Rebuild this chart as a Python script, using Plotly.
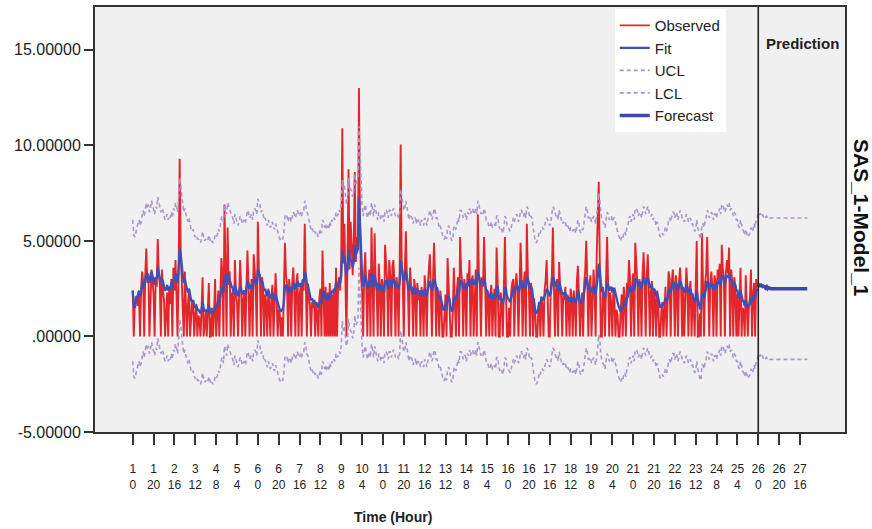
import plotly.graph_objects as go

# ---------------- data ----------------
observed_by_day = [
    [2.4,0,1.8,2.1,2.0,1.6,2.2,0,2.5,3.4,2.9,0,3.2,4.6,2.8,3.3,0,2.6,3.5,2.9,2.2,0,3.1,2.6],
    [5.1,3.3,2.7,0,3.5,2.4,1.9,0,1.5,2.3,0,2.6,1.7,3.0,0,3.6,2.4,4.0,2.1,0,3.3,9.3,4.4,2.8],
    [2.3,0,3.4,2.0,0,1.7,2.5,0,1.3,1.9,1.5,0,1.2,1.7,0,1.1,0.9,0,1.4,3.1,0,1.0,1.3,0],
    [1.1,2.8,0,0,1.5,0,1.2,3.0,0,1.6,2.4,0,2.9,4.1,3.2,0,6.9,2.5,0,5.7,2.7,3.4,0,2.3],
    [2.0,0,4.0,2.2,1.8,0,2.5,4.0,2.6,0,1.9,2.3,0,3.2,4.5,2.8,0,2.1,3.0,0,4.3,3.5,2.4,0],
    [6.0,3.4,2.9,0,3.1,2.6,0,2.2,1.8,0,2.5,1.6,0,2.1,2.7,0,1.9,3.3,2.0,0,1.4,1.2,0,1.0],
    [0,2.3,4.9,3.2,2.7,0,3.0,2.4,0,2.8,3.6,2.2,0,2.9,3.3,0,2.1,2.6,0,3.0,2.4,5.9,3.1,0],
    [2.7,2.0,1.6,0,1.8,1.5,1.9,0,1.7,1.2,0,2.0,2.5,0,4.5,2.4,0,2.6,0,2.3,0,2.8,0,2.2],
    [0,2.5,0,3.6,0,2.7,3.1,2.4,4.2,10.9,3.8,5.9,2.9,0,4.1,8.75,3.5,6.0,4.8,3.2,5.0,8.6,3.9,5.2],
    [4.6,13.0,5.5,3.0,2.4,0,3.3,4.4,2.6,0,2.9,3.5,0,5.7,3.1,0,5.4,2.8,2.3,0,3.8,2.6,0,3.0],
    [2.5,0,4.8,3.4,2.9,0,4.0,3.2,0,3.6,4.0,2.8,0,3.1,2.6,0,3.4,10.05,4.0,2.9,0,3.5,5.5,3.0],
    [2.4,0,3.6,2.7,2.2,0,3.0,2.5,0,2.8,1.9,2.4,0,2.6,2.0,0,3.2,2.3,0,2.7,3.5,4.3,2.5,0],
    [2.9,4.9,3.1,0,2.6,2.0,0,2.4,1.8,0,0,1.6,2.2,0,4.1,2.7,1.5,0,0,1.2,3.6,2.0,0,2.5],
    [3.1,0,5.2,3.4,2.8,0,3.0,2.5,0,3.3,2.6,4.0,0,2.9,3.2,0,2.4,3.5,0,6.4,3.3,2.7,0,3.1],
    [2.6,5.2,3.0,0,2.4,1.9,0,2.2,2.7,0,1.8,2.5,0,4.65,2.9,0,0,2.3,1.7,0,2.6,5.2,2.4,0],
    [0,1.5,0,2.3,2.8,3.0,0,2.6,3.3,2.4,0,2.9,4.9,3.1,0,2.7,3.4,0,5.9,3.2,2.5,0,2.8,2.2],
    [0,2.0,1.4,0,0,1.2,1.8,0,2.1,1.6,0,2.4,2.9,4.0,2.3,0,0,2.6,3.1,5.7,2.7,0,2.4,3.0],
    [0,3.9,2.5,2.0,0,2.3,1.9,2.6,0,2.2,1.7,0,2.5,2.0,0,2.4,1.8,0,2.9,3.7,2.1,0,1.6,2.3],
    [0,2.8,3.4,5.0,3.0,0,2.5,3.2,0,2.7,3.5,2.4,0,4.2,5.8,8.1,3.9,0,0,2.6,2.1,0,2.9,5.2],
    [2.7,0,2.3,1.8,0,2.5,2.0,0,1.4,1.1,0,0,1.3,2.2,0,2.6,1.9,0,2.8,2.4,4.0,3.0,0,2.6],
    [3.3,0,4.9,3.4,2.8,0,3.0,2.6,0,3.2,4.4,2.9,0,3.1,4.3,2.6,0,2.3,2.9,0,2.5,1.9,0,2.4],
    [1.6,0,0,1.3,1.8,0,2.0,2.6,0,2.2,3.4,3.0,0,2.8,3.5,2.7,0,3.2,2.4,0,2.9,3.6,2.5,0],
    [2.6,0,2.3,3.6,2.7,0,2.4,2.9,0,2.1,1.7,0,2.6,5.0,0,0,1.2,0,5.4,2.4,0,2.8,3.3,5.2],
    [3.0,0,2.8,3.4,2.6,0,3.2,2.9,0,3.5,3.0,3.8,0,4.8,3.6,3.1,0,3.4,4.0,3.3,4.65,0,3.5,2.9],
    [0,3.1,2.6,0,2.2,0,1.8,3.6,0,1.5,1.3,0,3.2,1.4,0,1.6,2.0,3.5,0,2.2,2.8,0,3.0,2.6],
]

fit_by_day = [
    [2.4,1.6,1.5,1.8,2.0,2.2,2.4,2.1,2.3,2.6,2.9,2.6,3.0,3.3,3.0,3.2,2.8,3.0,3.4,3.2,3.0,2.7,3.1,3.0],
    [3.6,3.3,3.1,2.8,3.0,2.9,2.6,2.4,2.5,2.7,2.4,2.6,2.5,2.8,2.5,3.0,2.9,3.3,3.1,2.8,3.5,4.6,4.3,3.6],
    [3.2,2.8,3.0,2.7,2.4,2.3,2.5,2.1,1.9,1.8,1.9,1.6,1.5,1.6,1.4,1.4,1.3,1.2,1.4,1.8,1.5,1.3,1.4,1.3],
    [1.3,1.6,1.4,1.2,1.3,1.2,1.3,1.6,1.5,1.6,1.9,1.8,2.1,2.5,2.6,2.3,3.2,3.0,2.7,3.3,3.1,3.0,2.7,2.6],
    [2.5,2.2,2.7,2.5,2.4,2.1,2.3,2.6,2.5,2.2,2.3,2.4,2.2,2.5,2.9,2.8,2.5,2.6,2.7,2.4,2.9,3.0,2.9,2.7],
    [3.5,3.3,3.2,2.8,2.9,2.7,2.4,2.5,2.3,2.1,2.4,2.2,2.0,2.1,2.3,2.0,1.9,2.2,2.0,1.7,1.6,1.4,1.3,1.4],
    [1.4,1.8,2.6,2.7,2.6,2.3,2.6,2.5,2.3,2.5,2.8,2.7,2.5,2.7,2.9,2.7,2.6,2.8,2.6,2.9,2.9,3.4,3.2,2.8],
    [2.7,2.4,2.2,1.9,2.0,1.8,1.9,1.7,1.8,1.6,1.5,1.7,1.9,1.7,2.4,2.3,2.0,2.2,1.9,2.1,1.9,2.3,2.1,2.4],
    [2.3,2.5,2.4,2.8,2.6,2.7,2.9,2.8,3.2,4.5,4.0,4.2,3.7,3.2,3.5,4.6,4.1,4.0,3.9,3.6,3.9,4.8,4.3,4.4],
    [4.6,7.3,5.6,3.9,3.2,2.6,2.9,3.2,2.9,2.5,2.7,2.9,2.6,3.3,3.0,2.6,3.2,2.9,2.7,2.4,2.8,2.7,2.4,2.6],
    [2.6,2.3,2.9,2.9,2.8,2.5,2.9,2.9,2.6,2.8,3.0,2.9,2.6,2.7,2.7,2.5,2.8,4.0,3.6,3.3,2.9,3.0,3.4,3.1],
    [2.8,2.4,2.7,2.6,2.5,2.2,2.5,2.5,2.2,2.5,2.3,2.4,2.1,2.4,2.3,2.1,2.5,2.4,2.1,2.4,2.6,2.9,2.7,2.4],
    [2.6,3.0,2.9,2.5,2.5,2.3,2.0,2.1,1.9,1.6,1.4,1.4,1.6,1.4,2.0,2.1,1.9,1.5,1.3,1.4,2.0,2.1,1.9,2.2],
    [2.5,2.3,2.9,2.9,2.8,2.5,2.7,2.7,2.4,2.8,2.7,3.0,2.7,2.9,3.0,2.7,2.8,3.0,2.7,3.4,3.2,3.0,2.7,2.8],
    [2.7,3.0,2.8,2.4,2.4,2.2,2.0,2.1,2.3,2.0,2.0,2.2,2.0,2.6,2.6,2.2,1.9,2.0,1.9,1.7,2.0,2.6,2.5,2.1],
    [2.0,1.9,1.8,2.0,2.3,2.5,2.3,2.5,2.7,2.6,2.3,2.5,2.9,2.9,2.6,2.6,2.8,2.5,3.1,3.0,2.8,2.5,2.6,2.5],
    [2.0,1.6,1.3,1.2,1.3,1.5,1.8,1.7,2.0,2.0,1.9,2.1,2.3,2.5,2.4,2.2,2.1,2.3,2.6,3.1,3.0,2.7,2.6,2.7],
    [2.4,2.9,2.7,2.5,2.2,2.3,2.2,2.3,2.0,2.1,2.0,1.8,2.0,2.0,1.8,2.0,1.9,1.7,2.1,2.4,2.2,1.8,1.7,1.9],
    [1.9,2.3,2.6,3.1,2.9,2.5,2.5,2.6,2.3,2.4,2.6,2.5,2.2,2.6,3.1,3.8,3.5,2.8,2.4,2.3,2.2,2.0,2.3,2.8],
    [2.7,2.4,2.5,2.6,2.3,2.5,2.5,2.2,2.0,1.8,1.6,1.4,1.3,1.5,1.4,1.7,1.8,1.6,2.0,2.1,2.5,2.6,2.3,2.5],
    [2.7,2.4,3.0,3.0,2.9,2.6,2.8,2.8,2.5,2.8,3.1,3.0,2.7,2.9,3.1,2.9,2.6,2.6,2.7,2.4,2.5,2.4,2.1,2.3],
    [2.0,1.7,1.5,1.6,1.7,1.6,1.8,2.0,1.8,2.0,2.4,2.5,2.3,2.5,2.8,2.8,2.5,2.8,2.7,2.4,2.6,2.9,2.8,2.5],
    [2.5,2.3,2.4,2.7,2.6,2.3,2.4,2.5,2.2,2.2,2.0,1.8,1.9,2.4,2.0,1.7,1.5,1.4,2.2,2.2,2.0,2.3,2.5,2.9],
    [2.8,2.5,2.6,2.8,2.7,2.4,2.7,2.7,2.5,2.8,2.8,3.0,2.7,3.2,3.2,3.0,2.8,3.0,3.2,3.1,3.3,2.9,3.0,2.9],
    [2.6,2.8,2.7,2.4,2.4,2.1,2.0,2.4,2.1,1.9,1.8,1.6,1.9,1.7,1.5,1.6,1.7,2.0,1.8,1.9,2.2,2.0,2.4,2.5],
]

forecast_values = [
    2.7,2.6,2.75,2.6,2.7,2.55,2.65,2.55,2.6,2.5,2.55,2.5,
    2.5,2.5,2.5,2.5,2.5,2.5,2.5,2.5,2.5,2.5,2.5,2.5,
    2.5,2.5,2.5,2.5,2.5,2.5,2.5,2.5,2.5,2.5,2.5,2.5,
    2.5,2.5,2.5,2.5,2.5,2.5,2.5,2.5,2.5,2.5,2.5,2.5,
]
forecast_start_hour = 600
ci_half_width = 3.7  # 95% confidence half-width around fit / forecast

tick_hours = [0,20,40,60,80,100,120,140,160,180,200,220,240,260,280,300,320,
              340,360,380,400,420,440,460,480,500,520,540,560,580,600,620,640]
tick_days = [1,1,2,3,4,5,6,6,7,8,9,10,11,11,12,13,14,15,16,16,17,18,19,20,21,21,22,23,24,25,26,26,27]
tick_hour_of_day = [0,20,16,12,8,4,0,20,16,12,8,4,0,20,16,12,8,4,0,20,16,12,8,4,0,20,16,12,8,4,0,20,16]

y_tick_vals = [15, 10, 5, 0, -5]
y_tick_text = ["15.00000", "10.00000", "5.00000", ".00000", "-5.00000"]

# ---------------- build series ----------------
observed = [v for day in observed_by_day for v in day]
fit = [v for day in fit_by_day for v in day]
hours = list(range(len(observed)))
ucl = [v + ci_half_width for v in fit]
lcl = [v - ci_half_width for v in fit]
f_hours = list(range(forecast_start_hour, forecast_start_hour + len(forecast_values)))
f_ucl = [v + ci_half_width for v in forecast_values]
f_lcl = [v - ci_half_width for v in forecast_values]

RED = "#e3262b"
BLUE = "#3e4fb6"
LAV = "#ab96cc"
FONT = "Liberation Sans, Arial"

fig = go.Figure()
fig.add_trace(go.Scatter(x=hours, y=observed, mode="lines", name="Observed",
                         line=dict(color=RED, width=1.9)))
fig.add_trace(go.Scatter(x=hours, y=fit, mode="lines", name="Fit",
                         line=dict(color=BLUE, width=2.3)))
fig.add_trace(go.Scatter(x=hours + f_hours, y=ucl + f_ucl, mode="lines", name="UCL",
                         line=dict(color=LAV, width=1.6, dash="4px,3px")))
fig.add_trace(go.Scatter(x=hours + f_hours, y=lcl + f_lcl, mode="lines", name="LCL",
                         line=dict(color=LAV, width=1.6, dash="4px,3px")))
fig.add_trace(go.Scatter(x=f_hours, y=forecast_values, mode="lines", name="Forecast",
                         line=dict(color="#3b4aa8", width=3.5)))

fig.add_shape(type="line", xref="x", yref="paper", x0=forecast_start_hour, x1=forecast_start_hour,
              y0=0, y1=1, line=dict(color="#222222", width=1.6))

fig.add_annotation(text="<b>Prediction</b>", xref="x", yref="paper", x=642, y=0.913,
                   xanchor="center", yanchor="middle",
                   showarrow=False, font=dict(size=15, color="#222", family=FONT))
fig.add_annotation(text="<b>SAS_1-Model_1</b>", xref="paper", yref="paper", x=1.0227, y=0.5035,
                   xanchor="center", yanchor="middle",
                   textangle=90, showarrow=False,
                   font=dict(size=21, color="#111", family=FONT))
fig.add_annotation(text="<b>Time (Hour)</b>", xref="paper", yref="paper", x=0.397, y=-0.199,
                   xanchor="center", yanchor="middle", showarrow=False,
                   font=dict(size=14, color="#222", family=FONT))

x_tick_text = [f"{d}<br>{h}" for d, h in zip(tick_days, tick_hour_of_day)]

fig.update_layout(
    width=872, height=529,
    margin=dict(l=95, r=27, t=5, b=97),
    paper_bgcolor="white",
    plot_bgcolor="#f0f0f0",
    font=dict(family=FONT, color="#222"),
    showlegend=True,
    legend=dict(x=0.693, y=0.995, xanchor="left", yanchor="top",
                bgcolor="white", borderwidth=0,
                font=dict(size=15, color="#222"),
                itemwidth=30, tracegroupgap=0),
    xaxis=dict(range=[-36.2, 683.2], tickvals=tick_hours, ticktext=x_tick_text,
               ticks="outside", ticklen=11, tickwidth=2, tickcolor="#333",
               showline=True, linewidth=2, linecolor="#333", mirror=True,
               showgrid=False, zeroline=False, ticklabelstandoff=14,
               tickfont=dict(size=12, color="#222"), tickangle=0),
    yaxis=dict(range=[-5, 17.24], tickvals=y_tick_vals, ticktext=y_tick_text,
               ticks="outside", ticklen=9, tickwidth=2, tickcolor="#333",
               showline=True, linewidth=2, linecolor="#333", mirror=True,
               showgrid=False, zeroline=False,
               tickfont=dict(size=16, color="#222")),
)

fig.write_html("out.html")
